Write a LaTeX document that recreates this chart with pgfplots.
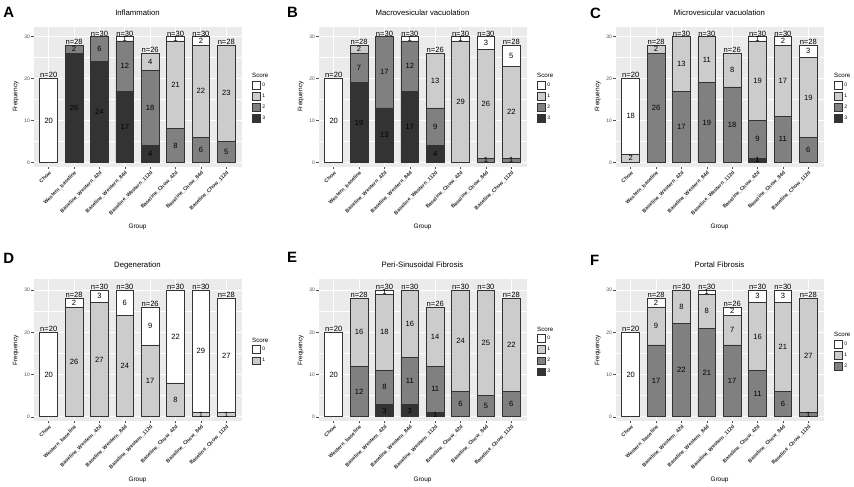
\documentclass[border=0pt]{standalone}
\usepackage{pgfplots}
\pgfplotsset{compat=1.18}
\usepackage{fontspec}
\setmainfont{Liberation Sans}
\pgfkeys{/pgf/number format/assume math mode=true}
\definecolor{ggbg}{RGB}{235,235,235}
\definecolor{scA}{RGB}{51,51,51}
\definecolor{scB}{RGB}{128,128,128}
\definecolor{scC}{RGB}{204,204,204}
\definecolor{tickgray}{RGB}{77,77,77}
\newcommand\xtfont{\bfseries\fontsize{5.2}{6}\selectfont}
\newcommand\ytfont{\fontsize{5}{6}\selectfont}
\newcommand\labfont{\fontsize{6.5}{7.5}\selectfont}
\newcommand\titfont{\fontsize{7.8}{9}\selectfont}
\newcommand\segfont{\fontsize{7.6}{8.5}\selectfont}
\newcommand\legfont{\fontsize{5}{6}\selectfont}
\newcommand\scorefont{\fontsize{6.2}{7}\selectfont}
\newcommand\letfont{\bfseries\fontsize{15}{16}\selectfont}
\pgfplotsset{
  ggpanel/.style={
    scale only axis, width=208bp, height=140bp,
    ybar stacked, bar width=0.7,
    xmin=0.4, xmax=8.6, ymin=-1.05, ymax=32.4,
    xtick={1,2,3,4,5,6,7,8},
    xticklabels={Chow,Western\_baseline,Baseline\_Western\_42d,Baseline\_Western\_84d,Baseline\_Western\_112d,Baseline\_Chow\_42d,Baseline\_Chow\_84d,Baseline\_Chow\_112d},
    ytick={0,10,20,30}, yticklabels={0,10,20,30},
    minor ytick={5,15,25},
    xmajorgrids, ymajorgrids, yminorgrids,
    major grid style={white, line width=0.9bp},
    minor grid style={white, line width=0.45bp},
    axis line style={draw=none},
    axis background/.style={fill=ggbg},
    tick pos=left, tick align=outside,
    major tick length=2.3bp, minor tick length=0bp,
    tick style={tickgray, line width=0.5bp},
    xticklabel style={font=\xtfont, rotate=45, anchor=north east, inner sep=1bp, text=black!85},
    yticklabel style={font=\ytfont, text=tickgray, inner sep=1bp},
    xlabel={Group}, ylabel={Frequency},
    every axis x label/.style={at={(axis description cs:0.5,0)}, anchor=center, yshift=-60bp, font=\labfont},
    every axis y label/.style={at={(axis description cs:-0.085,0.5)}, anchor=center, rotate=90, font=\labfont},
    title style={at={(axis description cs:0.5,1)}, anchor=base, yshift=5.7bp, font=\titfont},
    reverse legend,
    legend image code/.code={\draw[#1, line width=0.6bp] (0bp,-3.9bp) rectangle (8bp,3.9bp);},
    legend style={at={(axis description cs:1,0.5)}, anchor=west, xshift=10.5bp, yshift=-5bp, draw=none, fill=none, font=\legfont, row sep=2.7bp, inner sep=0pt, cells={anchor=west}, nodes={inner sep=1.5bp}},
  },
  lowpanel/.style={height=141.5bp, ymin=-1, ymax=32.5,
    every axis x label/.style={at={(axis description cs:0.5,0)}, anchor=center, yshift=-59bp, font=\labfont}},
  ggover/.style={scale only axis, width=208bp, height=140bp, xmin=0.4, xmax=8.6, ymin=-1.05, ymax=32.4, hide axis, clip=false},
  lowover/.style={height=141.5bp, ymin=-1, ymax=32.5},
  seg/.style={fill=#1, draw=black!80, line width=0.75bp,
    nodes near coords={\pgfmathfloatifflags{\pgfplotspointmeta}{0}{}{\pgfmathprintnumber{\pgfplotspointmeta}}},
    every node near coord/.append style={font=\segfont, text=black, anchor=center, inner sep=0pt}},
  nlab/.style={only marks, mark=*, mark size=0pt, mark options={draw=none, fill=none}, point meta=explicit symbolic,
    nodes near coords={\pgfplotspointmeta},
    every node near coord/.append style={font=\segfont, text=black, anchor=south, inner sep=0.4bp}},
}
\begin{document}
\begin{tikzpicture}
\path[use as bounding box] (0,0) rectangle (854bp,487bp);

% ---------- A ----------
\begin{axis}[ggpanel, at={(33.5bp,320.3bp)}, anchor=south west, title={Inflammation}, legend style={name=legA}]
\addplot[seg=scA] coordinates {(1,0)(2,26)(3,24)(4,17)(5,4)(6,0)(7,0)(8,0)}; \addlegendentry{3}
\addplot[seg=scB] coordinates {(1,0)(2,2)(3,6)(4,12)(5,18)(6,8)(7,6)(8,5)}; \addlegendentry{2}
\addplot[seg=scC] coordinates {(1,0)(2,0)(3,0)(4,0)(5,4)(6,21)(7,22)(8,23)}; \addlegendentry{1}
\addplot[seg=white] coordinates {(1,20)(2,0)(3,0)(4,1)(5,0)(6,1)(7,2)(8,0)}; \addlegendentry{0}
\end{axis}
\begin{axis}[ggover, at={(33.5bp,320.3bp)}, anchor=south west]
\addplot[nlab] coordinates {(1,20)[n=20] (2,28)[n=28] (3,30)[n=30] (4,30)[n=30] (5,26)[n=26] (6,30)[n=30] (7,30)[n=30] (8,28)[n=28]};
\end{axis}
\node[anchor=south west, font=\scorefont, inner sep=0pt] at ([yshift=2.5bp]legA.north west) {Score};

% ---------- B ----------
\begin{axis}[ggpanel, at={(318.5bp,320.3bp)}, anchor=south west, title={Macrovesicular vacuolation}, legend style={name=legB}]
\addplot[seg=scA] coordinates {(1,0)(2,19)(3,13)(4,17)(5,4)(6,0)(7,0)(8,0)}; \addlegendentry{3}
\addplot[seg=scB] coordinates {(1,0)(2,7)(3,17)(4,12)(5,9)(6,0)(7,1)(8,1)}; \addlegendentry{2}
\addplot[seg=scC] coordinates {(1,0)(2,2)(3,0)(4,0)(5,13)(6,29)(7,26)(8,22)}; \addlegendentry{1}
\addplot[seg=white] coordinates {(1,20)(2,0)(3,0)(4,1)(5,0)(6,1)(7,3)(8,5)}; \addlegendentry{0}
\end{axis}
\begin{axis}[ggover, at={(318.5bp,320.3bp)}, anchor=south west]
\addplot[nlab] coordinates {(1,20)[n=20] (2,28)[n=28] (3,30)[n=30] (4,30)[n=30] (5,26)[n=26] (6,30)[n=30] (7,30)[n=30] (8,28)[n=28]};
\end{axis}
\node[anchor=south west, font=\scorefont, inner sep=0pt] at ([yshift=2.5bp]legB.north west) {Score};

% ---------- C ----------
\begin{axis}[ggpanel, at={(615.5bp,320.3bp)}, anchor=south west, title={Microvesicular vacuolation}, legend style={name=legC}]
\addplot[seg=scA] coordinates {(1,0)(2,0)(3,0)(4,0)(5,0)(6,1)(7,0)(8,0)}; \addlegendentry{3}
\addplot[seg=scB] coordinates {(1,0)(2,26)(3,17)(4,19)(5,18)(6,9)(7,11)(8,6)}; \addlegendentry{2}
\addplot[seg=scC] coordinates {(1,2)(2,2)(3,13)(4,11)(5,8)(6,19)(7,17)(8,19)}; \addlegendentry{1}
\addplot[seg=white] coordinates {(1,18)(2,0)(3,0)(4,0)(5,0)(6,1)(7,2)(8,3)}; \addlegendentry{0}
\end{axis}
\begin{axis}[ggover, at={(615.5bp,320.3bp)}, anchor=south west]
\addplot[nlab] coordinates {(1,20)[n=20] (2,28)[n=28] (3,30)[n=30] (4,30)[n=30] (5,26)[n=26] (6,30)[n=30] (7,30)[n=30] (8,28)[n=28]};
\end{axis}
\node[anchor=south west, font=\scorefont, inner sep=0pt] at ([yshift=2.5bp]legC.north west) {Score};

% ---------- D ----------
\begin{axis}[ggpanel, lowpanel, at={(33.5bp,66bp)}, anchor=south west, title={Degeneration}, legend style={name=legD}]
\addplot[seg=scC] coordinates {(1,0)(2,26)(3,27)(4,24)(5,17)(6,8)(7,1)(8,1)}; \addlegendentry{1}
\addplot[seg=white] coordinates {(1,20)(2,2)(3,3)(4,6)(5,9)(6,22)(7,29)(8,27)}; \addlegendentry{0}
\end{axis}
\begin{axis}[ggover, lowover, at={(33.5bp,66bp)}, anchor=south west]
\addplot[nlab] coordinates {(1,20)[n=20] (2,28)[n=28] (3,30)[n=30] (4,30)[n=30] (5,26)[n=26] (6,30)[n=30] (7,30)[n=30] (8,28)[n=28]};
\end{axis}
\node[anchor=south west, font=\scorefont, inner sep=0pt] at ([yshift=2.5bp]legD.north west) {Score};

% ---------- E ----------
\begin{axis}[ggpanel, lowpanel, at={(318.5bp,66bp)}, anchor=south west, title={Peri-Sinusoidal Fibrosis}, legend style={name=legE}]
\addplot[seg=scA] coordinates {(1,0)(2,0)(3,3)(4,3)(5,1)(6,0)(7,0)(8,0)}; \addlegendentry{3}
\addplot[seg=scB] coordinates {(1,0)(2,12)(3,8)(4,11)(5,11)(6,6)(7,5)(8,6)}; \addlegendentry{2}
\addplot[seg=scC] coordinates {(1,0)(2,16)(3,18)(4,16)(5,14)(6,24)(7,25)(8,22)}; \addlegendentry{1}
\addplot[seg=white] coordinates {(1,20)(2,0)(3,1)(4,0)(5,0)(6,0)(7,0)(8,0)}; \addlegendentry{0}
\end{axis}
\begin{axis}[ggover, lowover, at={(318.5bp,66bp)}, anchor=south west]
\addplot[nlab] coordinates {(1,20)[n=20] (2,28)[n=28] (3,30)[n=30] (4,30)[n=30] (5,26)[n=26] (6,30)[n=30] (7,30)[n=30] (8,28)[n=28]};
\end{axis}
\node[anchor=south west, font=\scorefont, inner sep=0pt] at ([yshift=2.5bp]legE.north west) {Score};

% ---------- F ----------
\begin{axis}[ggpanel, lowpanel, at={(615.5bp,66bp)}, anchor=south west, title={Portal Fibrosis}, legend style={name=legF}]
\addplot[seg=scB] coordinates {(1,0)(2,17)(3,22)(4,21)(5,17)(6,11)(7,6)(8,1)}; \addlegendentry{2}
\addplot[seg=scC] coordinates {(1,0)(2,9)(3,8)(4,8)(5,7)(6,16)(7,21)(8,27)}; \addlegendentry{1}
\addplot[seg=white] coordinates {(1,20)(2,2)(3,0)(4,1)(5,2)(6,3)(7,3)(8,0)}; \addlegendentry{0}
\end{axis}
\begin{axis}[ggover, lowover, at={(615.5bp,66bp)}, anchor=south west]
\addplot[nlab] coordinates {(1,20)[n=20] (2,28)[n=28] (3,30)[n=30] (4,30)[n=30] (5,26)[n=26] (6,30)[n=30] (7,30)[n=30] (8,28)[n=28]};
\end{axis}
\node[anchor=south west, font=\scorefont, inner sep=0pt] at ([yshift=2.5bp]legF.north west) {Score};

% panel letters
\node[anchor=north west, inner sep=0pt, font=\letfont] at (3.3bp,480.3bp) {A};
\node[anchor=north west, inner sep=0pt, font=\letfont] at (287bp,480bp) {B};
\node[anchor=north west, inner sep=0pt, font=\letfont] at (590bp,479bp) {C};
\node[anchor=north west, inner sep=0pt, font=\letfont] at (3.3bp,234bp) {D};
\node[anchor=north west, inner sep=0pt, font=\letfont] at (287bp,235bp) {E};
\node[anchor=north west, inner sep=0pt, font=\letfont] at (590bp,232bp) {F};
\end{tikzpicture}
\end{document}
